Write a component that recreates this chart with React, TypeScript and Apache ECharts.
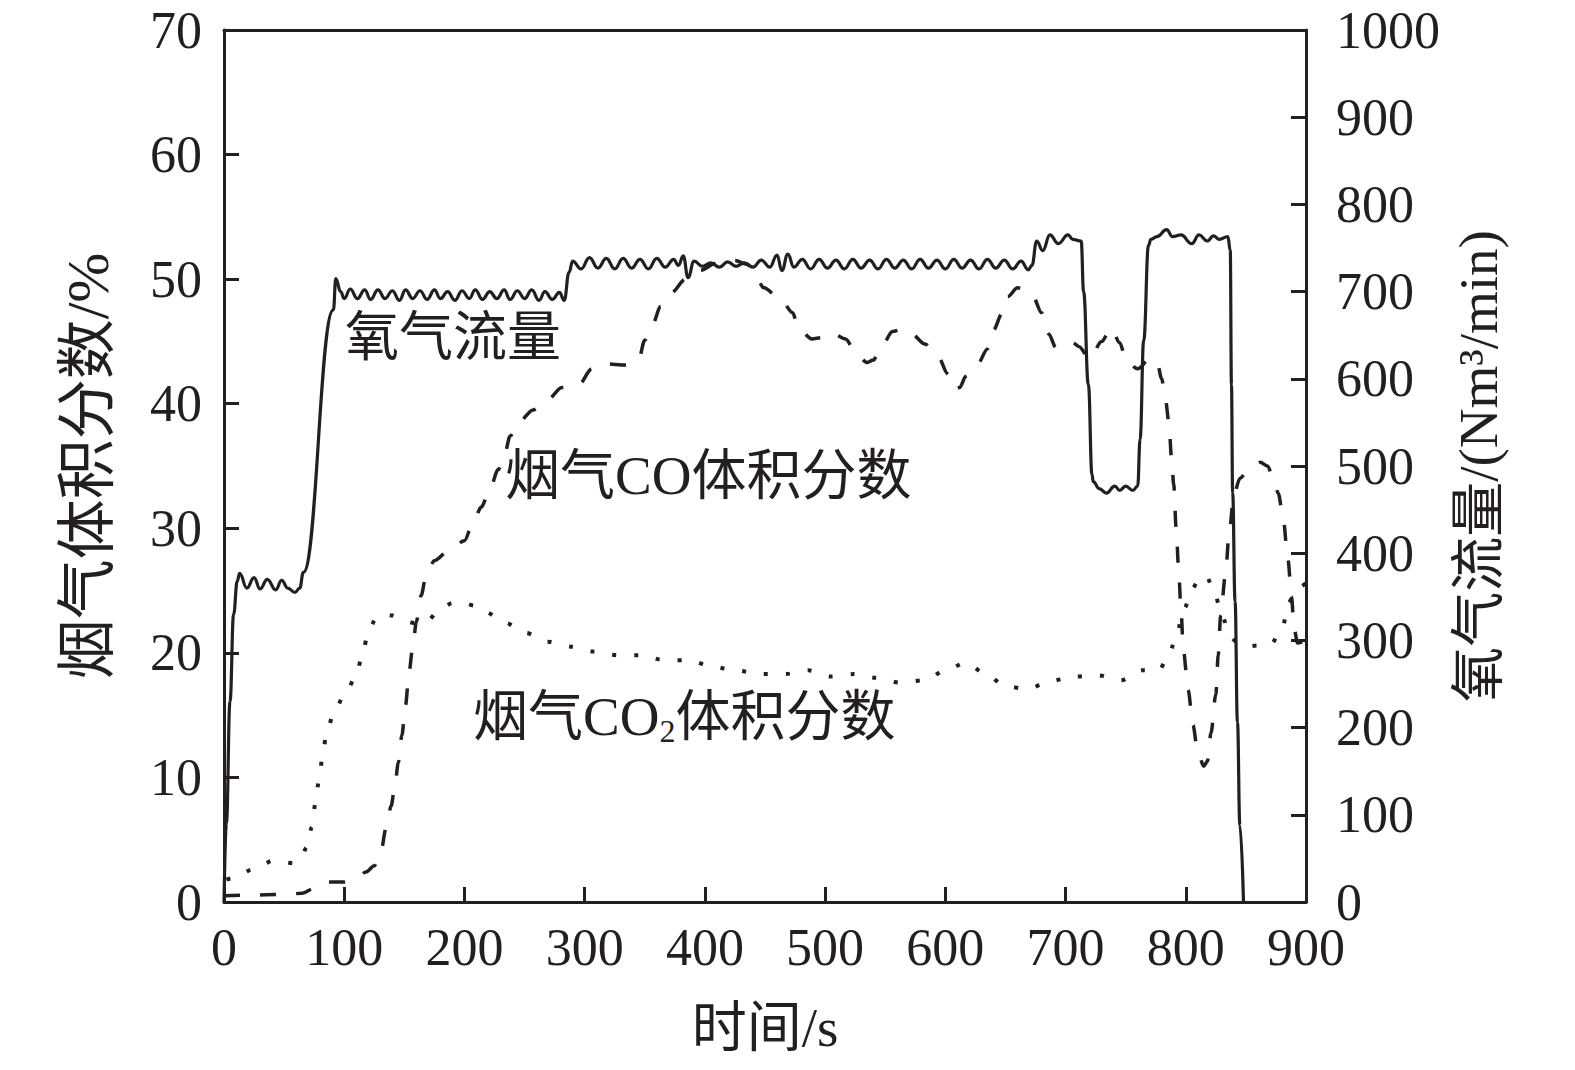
import React, { useEffect, useRef } from 'react';
import * as echarts from 'echarts';

// ---- Data ----
// O2 flow, Nm3/min (right axis)
const o2Time = [0, 2, 5, 8, 11, 13, 19, 25, 30, 36, 43, 48, 53, 59, 63, 66, 91, 93, 97, 100, 105, 111, 117, 122, 128, 134, 140, 146, 151, 157, 163, 169, 175, 180, 186, 192, 198, 204, 209, 215, 221, 227, 233, 238, 244, 250, 256, 262, 267, 273, 279, 283, 287, 290, 297, 304, 311, 318, 325, 332, 339, 346, 353, 360, 367, 374, 378, 382, 386, 391, 398, 405, 412, 419, 426, 433, 440, 447, 454, 460, 464, 469, 474, 481, 488, 495, 502, 509, 516, 523, 530, 537, 544, 551, 558, 565, 572, 579, 586, 593, 600, 607, 614, 621, 628, 635, 642, 649, 656, 663, 669, 672, 676, 681, 687, 694, 702, 706, 713, 715, 719, 722, 723, 728, 734, 741, 745, 750, 756, 760, 762, 765, 769, 771, 776, 784, 789, 796, 805, 811, 818, 823, 828, 835, 837, 838, 839, 841, 843, 845, 848];
const o2Flow = [0, 90, 230, 330, 368, 377, 360, 372, 359, 370, 358, 369, 360, 355, 360, 378, 679, 715, 700, 692, 703, 692, 702, 691, 702, 692, 701, 690, 702, 692, 701, 691, 702, 692, 700, 690, 701, 692, 702, 691, 700, 692, 702, 691, 701, 692, 702, 690, 700, 691, 699, 690, 722, 735, 726, 739, 727, 738, 726, 738, 727, 737, 726, 738, 728, 737, 730, 741, 716, 735, 729, 733, 728, 734, 729, 733, 728, 736, 728, 742, 724, 743, 728, 737, 726, 737, 727, 736, 726, 737, 727, 736, 726, 737, 727, 736, 726, 737, 727, 736, 726, 737, 727, 736, 726, 737, 727, 736, 726, 735, 725, 730, 758, 747, 765, 755, 765, 760, 758, 700, 593, 490, 482, 474, 469, 477, 472, 477, 472, 477, 531, 644, 753, 760, 763, 771, 763, 765, 755, 765, 758, 764, 760, 763, 747, 593, 469, 345, 206, 88, 0];

// Flue gas CO volume fraction, % (left axis)
const coTime = [0, 20, 50, 65, 75, 85, 100, 110, 118, 125, 130, 135, 139, 142, 145, 148, 151, 154, 157, 160, 164, 168, 175, 188, 200, 207, 214, 221, 228, 233, 238, 245, 257, 270, 281, 295, 306, 317, 334, 345, 350, 357, 363, 372, 384, 396, 410, 425, 435, 442, 449, 463, 473, 478, 489, 497, 505, 517, 526, 535, 540, 547, 556, 565, 572, 583, 594, 602, 607, 612, 617, 627, 635, 640, 647, 652, 660, 666, 673, 680, 686, 692, 700, 706, 711, 720, 730, 738, 745, 751, 760, 770, 776, 780, 783, 786, 788, 790, 792, 794, 796, 798, 802, 806, 810, 815, 818, 821, 825, 827, 829, 833, 836, 840, 845, 852, 862, 868, 873, 877, 881, 885, 888, 890, 893, 900];
const coFrac = [0.5, 0.55, 0.6, 0.7, 1.1, 1.6, 1.6, 1.9, 2.4, 2.9, 3.8, 6.0, 7.7, 9.2, 11.2, 13.4, 15.8, 18.5, 20.5, 22.5, 24.6, 26.2, 27.4, 28.3, 29.0, 30.4, 31.7, 33.1, 34.7, 35.8, 37.4, 38.5, 39.5, 40.4, 41.3, 41.5, 42.8, 43.2, 43.1, 43.6, 45.1, 46.5, 47.8, 48.9, 50.0, 50.7, 51.3, 51.5, 51.2, 50.3, 49.3, 48.4, 47.3, 46.0, 45.2, 45.3, 45.7, 45.2, 44.0, 43.3, 43.5, 44.6, 45.8, 46.0, 45.6, 44.8, 43.8, 42.4, 41.2, 41.3, 42.2, 43.2, 44.4, 45.9, 47.2, 48.6, 49.3, 49.2, 48.6, 47.3, 45.6, 44.5, 44.6, 44.9, 44.6, 43.6, 45.0, 46.1, 44.9, 43.3, 42.8, 43.6, 43.4, 42.0, 40.4, 38.5, 35.8, 33.5, 30.0, 26.8, 23.5, 20.2, 17.0, 14.2, 12.0, 10.9, 11.3, 13.6, 16.7, 19.8, 23.0, 26.3, 29.5, 32.7, 34.0, 34.7, 35.3, 35.0, 34.0, 32.8, 30.8, 27.5, 24.5, 22.0, 20.8, 21.0];

// Flue gas CO2 volume fraction, % (left axis)
const co2Time = [2, 6, 15, 23, 32, 40, 50, 58, 64, 69, 73, 76, 79, 82, 85, 91, 100, 110, 115, 120, 126, 132, 140, 149, 158, 168, 181, 190, 200, 208, 217, 234, 251, 269, 289, 308, 328, 347, 367, 387, 406, 425, 446, 467, 486, 505, 524, 542, 563, 583, 600, 617, 634, 650, 669, 686, 706, 727, 746, 764, 778, 784, 787, 793, 799, 805, 811, 817, 824, 830, 837, 843, 850, 860, 871, 881, 885, 893, 900];
const co2Frac = [1.8, 1.9, 2.3, 2.6, 3.0, 3.3, 3.2, 3.1, 3.6, 4.4, 6.0, 7.9, 9.8, 11.7, 13.4, 15.1, 16.6, 18.1, 19.9, 21.6, 22.7, 23.1, 23.0, 22.6, 22.4, 22.5, 23.6, 24.0, 24.0, 23.8, 23.3, 22.4, 21.6, 20.9, 20.5, 20.1, 19.8, 19.8, 19.4, 19.4, 18.9, 18.6, 18.3, 18.3, 18.6, 18.1, 18.3, 18.0, 17.6, 17.8, 18.6, 19.2, 18.3, 17.3, 17.1, 17.7, 18.1, 18.2, 17.8, 18.6, 18.6, 19.5, 20.1, 21.8, 23.6, 25.1, 25.9, 26.2, 24.8, 23.0, 21.3, 20.8, 20.5, 20.6, 20.7, 22.2, 24.0, 25.2, 25.6];

// Axis tick values
const xTicks = [0, 100, 200, 300, 400, 500, 600, 700, 800, 900];
const yLeftTicks = [0, 10, 20, 30, 40, 50, 60, 70];
const yRightTicks = [0, 100, 200, 300, 400, 500, 600, 700, 800, 900, 1000];

// Labels
const xName = '时间/s';
const yLeftName = '烟气体积分数/%';
const yRightName = '氧气流量/(Nm³/min)';
const labelO2 = '氧气流量';
const labelCO = '烟气CO体积分数';

const INK = '#231f20';
const FONT = '"Liberation Serif", "Times New Roman", "Noto Sans CJK SC", serif';

const pairs = (t: number[], v: number[]) => t.map((x, i) => [x, v[i]]);
const first = (a: number[]) => a[0];
const last = (a: number[]) => a[a.length - 1];

export default function App() {
  const ref = useRef<HTMLDivElement>(null);
  useEffect(() => {
    const chart = echarts.init(ref.current as HTMLDivElement, null, { renderer: 'svg' });
    const mkLine = () => ({ show: true, onZero: false, lineStyle: { color: INK, width: 3 } });
    const mkTick = (vals: number[]) => ({
      show: true, inside: true, length: 15, customValues: vals,
      lineStyle: { color: INK, width: 3 },
    });
    const mkLabel = (vals: number[], margin: number) => ({
      show: true, inside: false, margin, customValues: vals, hideOverlap: false,
      color: INK, fontSize: 52, lineHeight: 42, fontFamily: FONT,
      formatter: (v: number) => String(v),
    });
    const option: any = {
      animation: false,
      backgroundColor: '#ffffff',
      grid: { left: 224, right: 269, top: 30, bottom: 168, containLabel: false },
      xAxis: [
        {
          type: 'value', min: first(xTicks), max: last(xTicks), interval: 100, position: 'bottom',
          axisLine: mkLine(), axisTick: mkTick(xTicks), splitLine: { show: false },
          axisLabel: mkLabel(xTicks, 24),
          name: xName, nameLocation: 'middle', nameGap: 98,
          nameTextStyle: { color: INK, fontSize: 55, fontFamily: FONT },
        },
        {
          type: 'value', min: first(xTicks), max: last(xTicks), position: 'top',
          axisLine: mkLine(), axisTick: { show: false }, axisLabel: { show: false }, splitLine: { show: false },
        },
      ],
      yAxis: [
        {
          type: 'value', min: first(yLeftTicks), max: last(yLeftTicks), interval: 10, position: 'left',
          axisLine: mkLine(), axisTick: mkTick(yLeftTicks), splitLine: { show: false },
          axisLabel: mkLabel(yLeftTicks, 22),
          name: yLeftName, nameLocation: 'middle', nameGap: 106, nameRotate: 90,
          nameTextStyle: { color: INK, fontSize: 60, fontFamily: FONT },
        },
        {
          type: 'value', min: first(yRightTicks), max: last(yRightTicks), interval: 100, position: 'right',
          axisLine: mkLine(), axisTick: mkTick(yRightTicks), splitLine: { show: false },
          axisLabel: mkLabel(yRightTicks, 30),
          name: yRightName, nameLocation: 'middle', nameGap: 128, nameRotate: 90,
          nameTextStyle: { color: INK, fontSize: 55, fontFamily: FONT },
        },
      ],
      graphic: [
        {
          type: 'text', x: 345, y: 338,
          style: { text: labelO2, fill: INK, fontSize: 54, fontFamily: FONT, verticalAlign: 'middle', align: 'left' },
        },
        {
          type: 'text', x: 505, y: 475,
          style: { text: labelCO, fill: INK, fontSize: 55, fontFamily: FONT, verticalAlign: 'middle', align: 'left' },
        },
        {
          type: 'text', x: 473, y: 716,
          style: {
            text: '{a|烟气CO}{s|2}{a|体积分数}', fill: INK, fontFamily: FONT, fontSize: 55,
            verticalAlign: 'middle', align: 'left',
            rich: {
              a: { fontSize: 55, lineHeight: 62, fontFamily: FONT, fill: INK },
              s: { fontSize: 32, lineHeight: 32, fontFamily: FONT, fill: INK, verticalAlign: 'bottom' },
            },
          },
        },
      ],
      series: [
        {
          name: labelO2, type: 'line', yAxisIndex: 1, xAxisIndex: 0,
          data: pairs(o2Time, o2Flow), showSymbol: false, symbol: 'none',
          smooth: 0.45, smoothMonotone: 'x',
          lineStyle: { color: INK, width: 3.2, type: 'solid' }, z: 3,
        },
        {
          name: labelCO, type: 'line', yAxisIndex: 0, xAxisIndex: 0,
          data: pairs(coTime, coFrac), showSymbol: false, symbol: 'none',
          smooth: 0.3, smoothMonotone: 'x',
          lineStyle: { color: INK, width: 3.5, type: [16, 20] }, z: 2,
        },
        {
          name: '烟气CO2体积分数', type: 'line', yAxisIndex: 0, xAxisIndex: 0,
          data: pairs(co2Time, co2Frac), showSymbol: false, symbol: 'none',
          smooth: 0.3, smoothMonotone: 'x',
          lineStyle: { color: INK, width: 4, type: [4, 18] }, z: 2,
        },
      ],
    };
    chart.setOption(option);
    return () => chart.dispose();
  }, []);
  return (
    <div
      ref={ref}
      style={{ position: 'fixed', left: 0, top: 0, width: 1575, height: 1070, background: '#fff' }}
    />
  );
}
